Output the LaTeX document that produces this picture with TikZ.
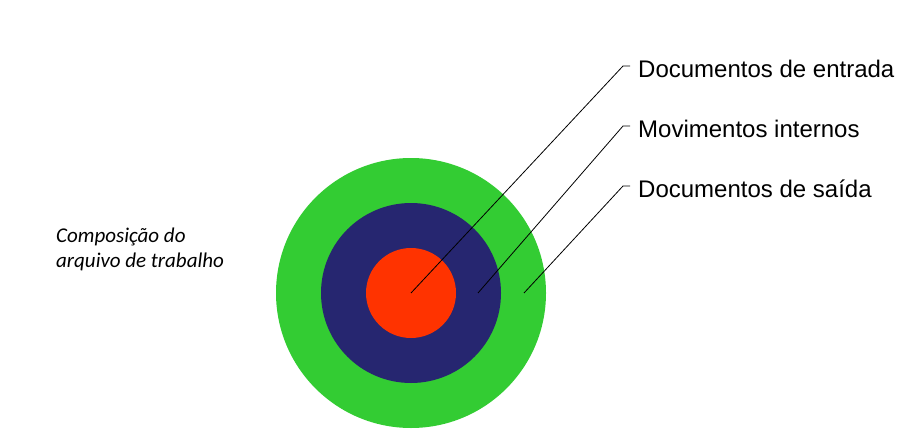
\documentclass[tikz,border=0pt]{standalone}
\usepackage{fontspec}
\setmainfont{Liberation Sans}
\newfontfamily\calibri{Carlito}
\definecolor{ringgreen}{RGB}{51,204,51}
\definecolor{ringnavy}{RGB}{38,38,112}
\definecolor{ringred}{RGB}{255,51,0}
\begin{document}
\begin{tikzpicture}[x=1pt, y=-1pt,
    lbl/.style={anchor=base west, inner sep=0pt, font=\fontsize{24}{28}\selectfont},
    note/.style={anchor=base west, inner sep=0pt, font=\calibri\itshape\fontsize{21}{25}\selectfont},
    leader/.style={line width=.8pt}]
\useasboundingbox (0,0) rectangle (902,436);

\foreach \n/\r/\c in {1/135/ringgreen, 2/90/ringnavy, 3/45/ringred}
{
    \node[circle, fill=\c, inner sep=0pt, minimum size={2*\r pt}] (c\n) at (411,293) {};
}

\foreach \i/\x/\y/\t in {1/411/66/Documentos de entrada, 2/478/126/Movimentos internos, 3/524/186/Documentos de saída}
{
    \coordinate (p\i) at (\x,293);
    \coordinate (b\i) at (623,\y);
    \coordinate (k\i) at (630,\y);
    \node[lbl] (l\i) at (638,\y+11.3) {\t};
    \draw[leader] (p\i) -- (b\i) -- (k\i);
}

\node[note] (t1) at (56,242.3) {Composição do};
\node[note] (t2) at (56,267.7) {arquivo de trabalho};
\end{tikzpicture}
\end{document}
